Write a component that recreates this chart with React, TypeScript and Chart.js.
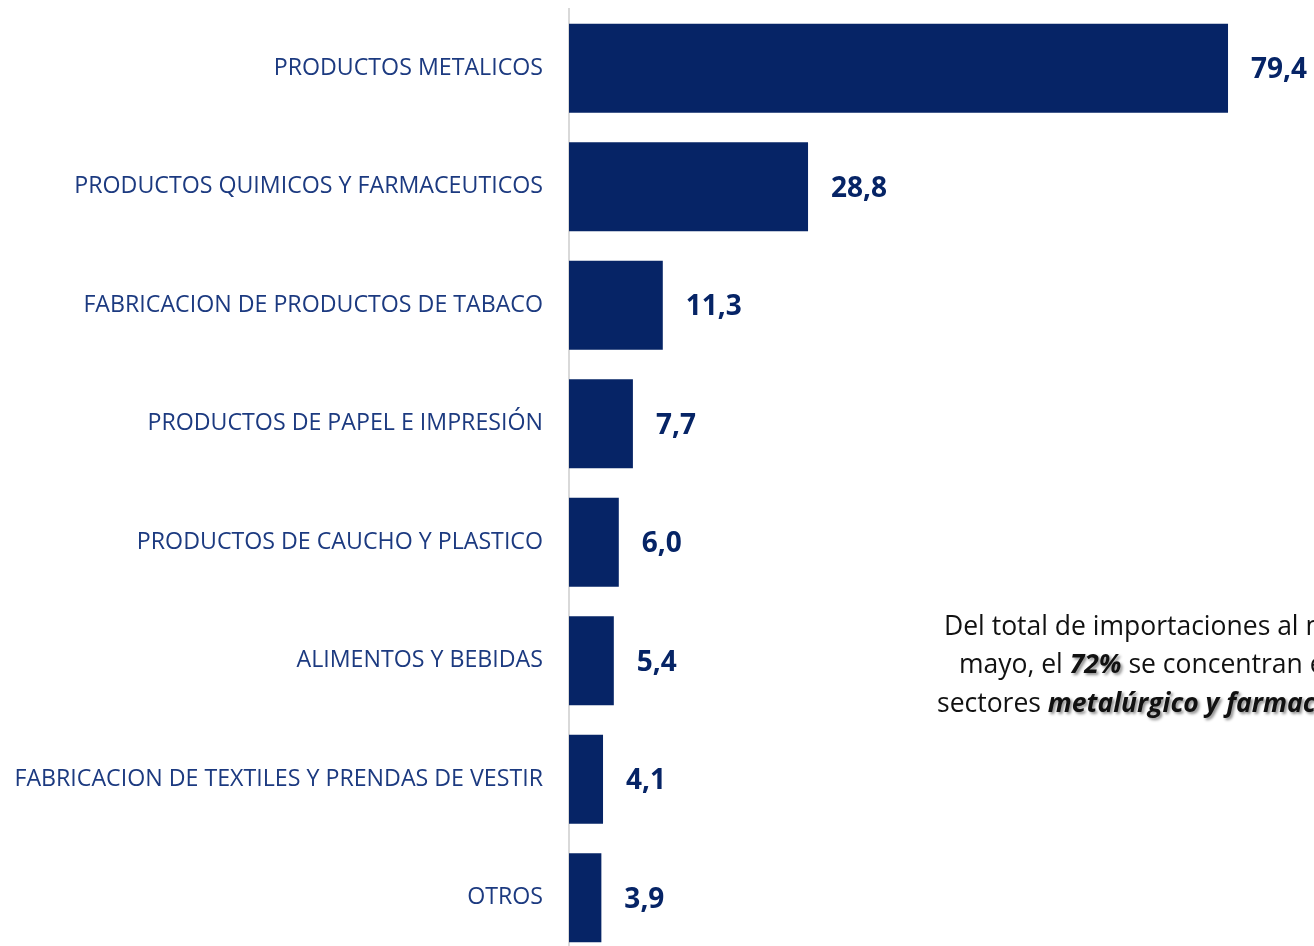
import React, { useEffect, useRef } from "react";
import { Chart, registerables } from "chart.js";

Chart.register(...registerables);

const categories = [
  "PRODUCTOS METALICOS",
  "PRODUCTOS QUIMICOS Y FARMACEUTICOS",
  "FABRICACION DE PRODUCTOS DE TABACO",
  "PRODUCTOS DE PAPEL E IMPRESIÓN",
  "PRODUCTOS DE CAUCHO Y PLASTICO",
  "ALIMENTOS Y BEBIDAS",
  "FABRICACION DE TEXTILES Y PRENDAS DE VESTIR",
  "OTROS",
];
const values = [79.4, 28.8, 11.3, 7.7, 6.0, 5.4, 4.1, 3.9];

const BAR_COLOR = "#062466";
const LABEL_COLOR = "#1c3a80";
const FONT = "'Open Sans', sans-serif";

const valueLabels = {
  id: "valueLabels",
  afterDatasetsDraw(chart: any) {
    const ctx = chart.ctx;
    const meta = chart.getDatasetMeta(0);
    ctx.save();
    ctx.font = `bold 28px ${FONT}`;
    ctx.fillStyle = BAR_COLOR;
    ctx.textAlign = "left";
    ctx.textBaseline = "middle";
    meta.data.forEach((bar: any, i: number) => {
      const txt = values[i].toFixed(1).replace(".", ",");
      ctx.fillText(txt, bar.x + 23, bar.y + 2);
    });
    ctx.restore();
  },
};

export default function App() {
  const ref = useRef<HTMLCanvasElement | null>(null);
  useEffect(() => {
    if (!ref.current) return;
    const chart = new Chart(ref.current, {
      type: "bar",
      data: {
        labels: categories,
        datasets: [
          {
            data: values,
            backgroundColor: BAR_COLOR,
            borderWidth: 0,
            categoryPercentage: 1,
            barPercentage: 0.752,
          },
        ],
      },
      options: {
        indexAxis: "y",
        animation: false,
        responsive: false,
        maintainAspectRatio: false,
        layout: { autoPadding: false, padding: { top: 9, bottom: 0, left: 0, right: 0 } },
        plugins: { legend: { display: false }, tooltip: { enabled: false } },
        scales: {
          x: {
            min: 0,
            max: 90,
            display: false,
          },
          y: {
            grid: { display: false },
            border: { display: true, color: "#d9d9d9", width: 2 },
            ticks: {
              color: LABEL_COLOR,
              font: { family: "'Open Sans', sans-serif", size: 23.2 },
              padding: 18,
              autoSkip: false,
            },
            afterFit(scale: any) {
              scale.width = 569;
              scale.paddingTop = 0;
              scale.paddingBottom = 0;
            },
          },
        },
      },
      plugins: [valueLabels],
    });
    return () => chart.destroy();
  }, []);

  const shadow = "2px 2px 3px rgba(0,0,0,0.45)";
  const lineStyle: React.CSSProperties = {
    position: "absolute",
    whiteSpace: "nowrap",
    fontFamily: FONT,
    fontSize: 26.5,
    lineHeight: "38px",
    color: "#111",
  };
  const em: React.CSSProperties = { fontWeight: "bold", fontStyle: "italic", textShadow: shadow };

  return (
    <div
      style={{
        position: "absolute",
        left: 0,
        top: 0,
        width: 1314,
        height: 946,
        overflow: "hidden",
        background: "#fff",
      }}
    >
      <canvas ref={ref} width={1316} height={957} style={{ display: "block" }} />
      <div style={{ ...lineStyle, left: 944, top: 606 }}>Del total de importaciones al mes de</div>
      <div style={{ ...lineStyle, left: 959, top: 644 }}>
        mayo, el <span style={em}>72%</span> se concentran en los
      </div>
      <div style={{ ...lineStyle, left: 937, top: 683 }}>
        sectores <span style={em}>metalúrgico y farmacéutico</span>
      </div>
    </div>
  );
}
